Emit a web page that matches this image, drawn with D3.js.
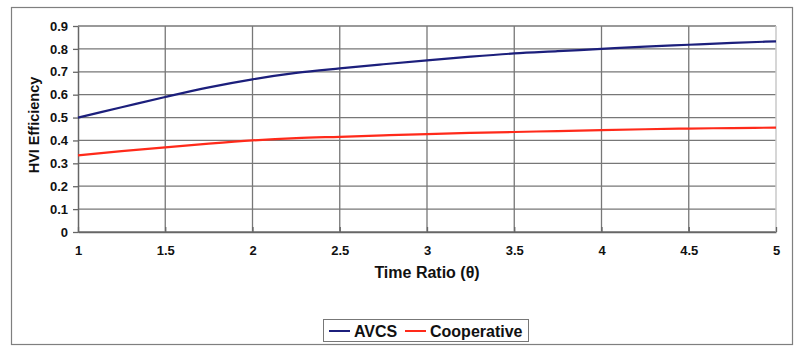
<!DOCTYPE html>
<html><head><meta charset="utf-8">
<script src="https://cdn.jsdelivr.net/npm/d3@7/dist/d3.min.js"></script>
<style>body{margin:0;background:#fff;}svg{display:block;font-family:"Liberation Sans",Arial,sans-serif;}</style>
</head><body>
<script>
const xValues = [1, 1.25, 1.5, 1.75, 2, 2.25, 2.5, 2.75, 3, 3.25, 3.5, 3.75, 4, 4.25, 4.5, 4.75, 5];
const avcs = [0.5, 0.545, 0.59, 0.632, 0.667, 0.695, 0.715, 0.733, 0.75, 0.766, 0.78, 0.79, 0.80, 0.81, 0.818, 0.826, 0.833];
const cooperative = [0.335, 0.353, 0.37, 0.386, 0.40, 0.41, 0.416, 0.422, 0.428, 0.433, 0.437, 0.441, 0.445, 0.449, 0.452, 0.454, 0.456];
const xTicks = [1, 1.5, 2, 2.5, 3, 3.5, 4, 4.5, 5];
const yTicks = [0, 0.1, 0.2, 0.3, 0.4, 0.5, 0.6, 0.7, 0.8, 0.9];
const seriesNames = ["AVCS", "Cooperative"];
const seriesColors = ["#1c1f7c", "#ff2a1a"];

const W = 800, H = 355;
const svg = d3.select("body").append("svg").attr("width", W).attr("height", H);
svg.append("rect").attr("x", 11.5).attr("y", 7.5).attr("width", 781).attr("height", 337)
  .attr("fill", "#fff").attr("stroke", "#7f7f7f").attr("stroke-width", 1.2);

const m = {l: 78, t: 26, r: 776, b: 232};
const x = d3.scaleLinear().domain([1, 5]).range([m.l, m.r]);
const y = d3.scaleLinear().domain([0, 0.9]).range([m.b, m.t]);

const g = svg.append("g");
// grid
g.selectAll(".hg").data(yTicks).enter().append("line")
  .attr("x1", m.l).attr("x2", m.r).attr("y1", d => y(d)).attr("y2", d => y(d))
  .attr("stroke", "#777").attr("stroke-width", 1.3);
g.selectAll(".vg").data(xTicks.slice(1, -1)).enter().append("line")
  .attr("x1", d => x(d)).attr("x2", d => x(d)).attr("y1", m.t).attr("y2", m.b)
  .attr("stroke", "#777").attr("stroke-width", 1.3);
g.append("line").attr("x1", m.r).attr("x2", m.r).attr("y1", m.t).attr("y2", m.b)
  .attr("stroke", "#c8c8c8").attr("stroke-width", 1.5);

// axes
const xAxis = d3.axisBottom(x).tickValues(xTicks).tickSize(5).tickSizeOuter(0).tickFormat(d3.format("~g"));
const yAxis = d3.axisLeft(y).tickValues(yTicks).tickSize(5).tickSizeOuter(0).tickFormat(d3.format("~g"));
const xa = svg.append("g").attr("transform", `translate(0,${m.b})`).call(xAxis);
const ya = svg.append("g").attr("transform", `translate(${m.l},0)`).call(yAxis);
[xa, ya].forEach(a => {
  a.select(".domain").attr("stroke", "#666").attr("stroke-width", 1.5);
  a.selectAll(".tick line").attr("stroke", "#666").attr("stroke-width", 1.3);
  a.selectAll("text").attr("font-size", 13).attr("font-weight", "bold").attr("fill", "#111")
    .attr("font-family", "Liberation Sans, Arial, sans-serif");
});
xa.selectAll(".tick line").attr("y1", -5).attr("y2", 0);
xa.selectAll("text").attr("dy", "0").attr("y", 23);
ya.selectAll(".tick line").attr("x1", -5).attr("x2", 0);
ya.selectAll("text").attr("x", -10);

// titles
svg.append("text").attr("x", 427).attr("y", 278).attr("text-anchor", "middle")
  .attr("font-size", 16).attr("font-weight", "bold").attr("fill", "#111").text("Time Ratio (θ)");
svg.append("text").attr("transform", `translate(39,125) rotate(-90)`).attr("text-anchor", "middle")
  .attr("font-size", 14.5).attr("font-weight", "bold").attr("fill", "#111").text("HVI Efficiency");

// lines
const line = d3.line().x((d, i) => x(xValues[i])).y(d => y(d)).curve(d3.curveMonotoneX);
[avcs, cooperative].forEach((s, k) => {
  svg.append("path").attr("d", line(s)).attr("fill", "none")
    .attr("stroke", seriesColors[k]).attr("stroke-width", 2.2);
});

// legend
const lg = svg.append("g");
lg.append("rect").attr("x", 323.5).attr("y", 319.5).attr("width", 205).attr("height", 22)
  .attr("fill", "#fff").attr("stroke", "#777").attr("stroke-width", 1);
const legItems = [{x: 329, tx: 354}, {x: 405, tx: 430}];
seriesNames.forEach((n, k) => {
  lg.append("line").attr("x1", legItems[k].x).attr("x2", legItems[k].x + 21).attr("y1", 331).attr("y2", 331)
    .attr("stroke", seriesColors[k]).attr("stroke-width", 2);
  lg.append("text").attr("x", legItems[k].tx).attr("y", 336.5).attr("font-size", 16).attr("font-weight", "bold")
    .attr("fill", "#111").text(n);
});
</script>
</body></html>
